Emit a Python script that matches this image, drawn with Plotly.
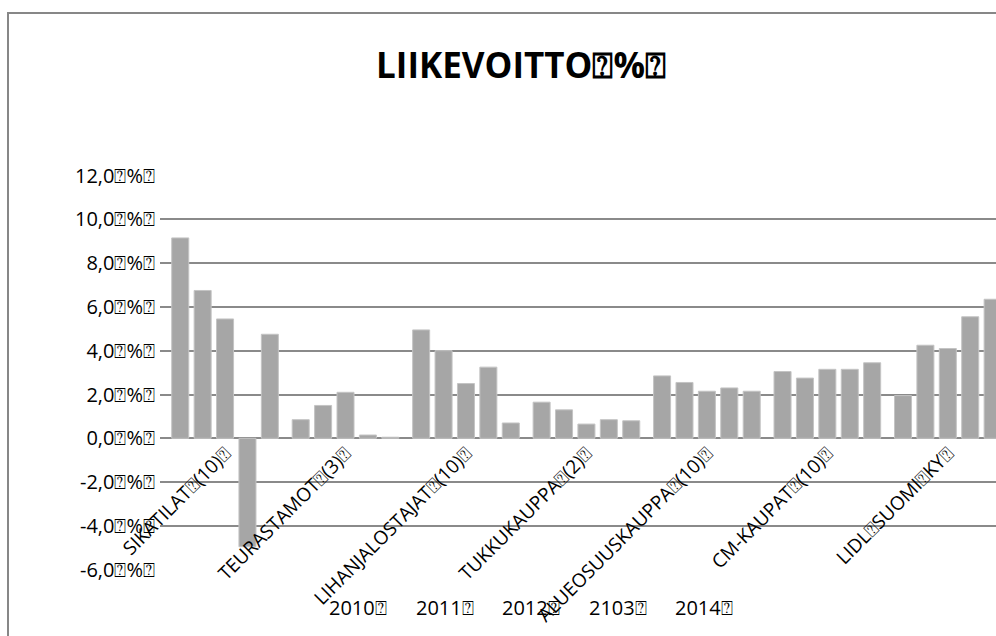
import plotly.graph_objects as go

BOX = "\u2370"

categories = ["SIKATILAT" + BOX + "(10)" + BOX,
              "TEURASTAMOT" + BOX + "(3)" + BOX,
              "LIHANJALOSTAJAT" + BOX + "(10)" + BOX,
              "TUKKUKAUPPA" + BOX + "(2)" + BOX,
              "ALUEOSUUSKAUPPA" + BOX + "(10)" + BOX,
              "CM-KAUPAT" + BOX + "(10)" + BOX,
              "LIDL" + BOX + "SUOMI" + BOX + "KY" + BOX]

series_names = ["2010", "2011", "2012", "2103", "2014"]

v2010 = [9.15, 0.85, 4.95, 1.65, 2.85, 3.05, 1.95]
v2011 = [6.75, 1.50, 4.00, 1.30, 2.55, 2.75, 4.25]
v2012 = [5.45, 2.10, 2.50, 0.65, 2.15, 3.15, 4.10]
v2103 = [-4.95, 0.15, 3.25, 0.85, 2.30, 3.15, 5.55]
v2014 = [4.75, 0.05, 0.70, 0.80, 2.15, 3.45, 6.35]
series_values = [v2010, v2011, v2012, v2103, v2014]

y_ticks = [-6, -4, -2, 0, 2, 4, 6, 8, 10, 12]
y_ticktext = [("%.1f" % t).replace(".", ",") + BOX + "%" + BOX for t in y_ticks]

W, H = 996, 636
FONT = "Open Sans, Noto Sans, DejaVu Sans, sans-serif"

fig = go.Figure()
x_idx = list(range(len(categories)))
for name, vals in zip(series_names, series_values):
    fig.add_trace(go.Bar(
        x=x_idx, y=vals, name=name,
        marker=dict(color="#a6a6a6", line=dict(color="#c4c4c4", width=1)),
        showlegend=False,
    ))

y_dom = [(H - 569.7) / H, (H - 175.5) / H]
zero_frac = y_dom[0] + (0 - (-6)) / 18 * (y_dom[1] - y_dom[0])

fig.update_layout(
    width=W, height=H, autosize=False,
    margin=dict(l=0, r=0, t=0, b=0, pad=0, autoexpand=False),
    paper_bgcolor="white", plot_bgcolor="white",
    barmode="group", bargap=0.07, bargroupgap=0.24,
    font=dict(family=FONT, color="black"),
    title=dict(text="<b>LIIKEVOITTO" + BOX + "%" + BOX + "</b>",
               x=521 / W, y=1 - 66 / H, xanchor="center", yanchor="middle",
               xref="paper", yref="paper", automargin=False,
               font=dict(size=35, family=FONT, color="black")),
    xaxis=dict(
        domain=[160 / W, 1], range=[-0.54, 6.40],
        anchor="free", position=zero_frac, automargin=False,
        tickmode="array", tickvals=x_idx, ticktext=categories,
        tickangle=-45, tickfont=dict(size=19, family=FONT, color="black"),
        showgrid=False, showline=False, zeroline=False, ticks="",
    ),
    yaxis=dict(
        domain=y_dom, range=[-6, 12], automargin=False,
        tickmode="array", tickvals=y_ticks, ticktext=y_ticktext,
        tickfont=dict(size=20, family=FONT, color="black"),
        showgrid=True, gridcolor="#8a8a8a", gridwidth=2,
        zeroline=True, zerolinecolor="#8a8a8a", zerolinewidth=2,
        showline=False, ticks="", ticklabelstandoff=4,
    ),
    shapes=[dict(type="rect", xref="paper", yref="paper",
                 x0=8 / W, x1=1.05, y0=-0.05, y1=1 - 13 / H,
                 line=dict(color="#878787", width=2), fillcolor="rgba(0,0,0,0)",
                 layer="below")],
)

legend_x0 = 327
legend_step = 86.5
for i, name in enumerate(series_names):
    fig.add_annotation(
        xref="paper", yref="paper",
        x=(legend_x0 + i * legend_step) / W, y=1 - 607 / H,
        xanchor="left", yanchor="middle", showarrow=False,
        text=name + BOX, font=dict(size=20, family=FONT, color="black"),
    )

fig.write_html("out.html")
